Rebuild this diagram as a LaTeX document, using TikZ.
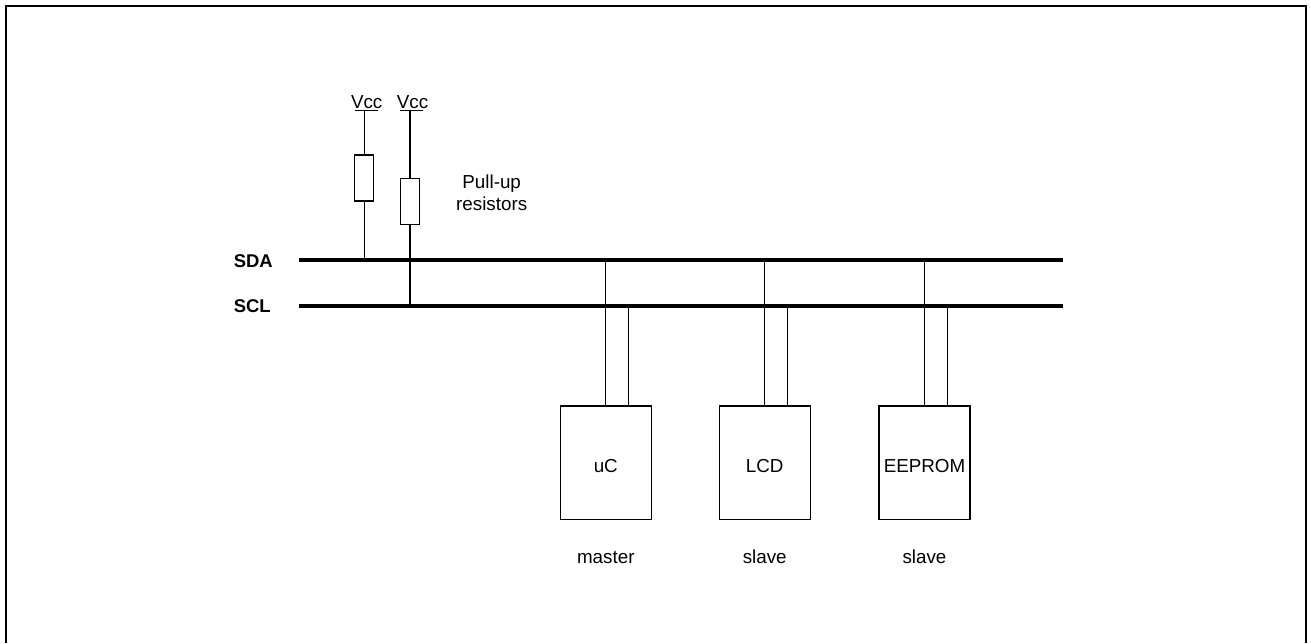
\documentclass[tikz,border=0pt]{standalone}
\usepackage{fontspec}
\setmainfont{Liberation Sans}
\tikzset{
  wire/.style={line width=0.65pt},
  bus/.style={line width=2.2pt},
  resistor/.style={draw,line width=0.65pt,inner sep=0pt,outer sep=0pt,minimum width=0.38cm,minimum height=0.92cm},
  chip/.style={draw,line width=0.65pt,inner sep=0pt,outer sep=0pt,minimum width=1.82cm,minimum height=2.27cm},
  label/.style={inner sep=0pt,anchor=base,font=\fontsize{10.7}{13}\selectfont},
  busname/.style={inner sep=0pt,anchor=base west,font=\fontsize{10.5}{13}\selectfont\bfseries}
}
\begin{document}
\begin{tikzpicture}[x=0.02cm,y=-0.02cm]
  \useasboundingbox (0,0) rectangle (1311,643);
  \draw[line width=1.4pt] (6.2,643) -- (6.2,6) -- (1306,6) -- (1306,643);
  % bus lines
  \coordinate (sdaL) at (299,260.3);
  \coordinate (sdaR) at (1063,260.3);
  \coordinate (sclL) at (299,305.7);
  \coordinate (sclR) at (1063,305.7);
  \draw[bus] (sdaL) -- (sdaR);
  \draw[bus] (sclL) -- (sclR);
  \node[busname] (sda) at (233.5,267.5) {SDA};
  \node[busname] (scl) at (233.5,312.5) {SCL};
  % pull-ups
  \node[label] (vcc1) at (366.7,108) {Vcc};
  \node[label] (vcc2) at (412.5,108) {Vcc};
  \coordinate (rail1) at (364.3,110.7);
  \coordinate (rail2) at (410,110.7);
  \draw[wire] (354.7,110.7) -- (378,110.7);
  \draw[wire] (400,110.7) -- (423,110.7);
  \node[resistor] (r1) at (364.3,178) {};
  \node[resistor] (r2) at (410,201.2) {};
  \draw[wire] (rail1) -- (r1);
  \draw[wire] (r1) -- (r1 |- sdaL);
  \draw[wire] (rail2) -- (r2);
  \draw[wire] (r2) -- (r2 |- sclL);
  \node[label] (pull) at (491.7,188) {Pull-up};
  \node[label] (res) at (491.7,210.7) {resistors};
  % devices
  \node[chip] (uC) at (605.8,462.7) {};
  \node[chip] (LCD) at (764.7,462.7) {};
  \node[chip] (EEPROM) at (924.5,462.7) {};
  \node[label] (uCtxt) at (605.8,472.5) {uC};
  \node[label] (LCDtxt) at (764.7,472.5) {LCD};
  \node[label] (EEPROMtxt) at (924.5,472.5) {EEPROM};
  \node[label] (uCrole) at (605.8,563) {master};
  \node[label] (LCDrole) at (764.7,563) {slave};
  \node[label] (EEPROMrole) at (924.5,563) {slave};
  \coordinate (d1) at (605.8,260.3);
  \coordinate (c1) at (628.4,305.7);
  \coordinate (d2) at (764.7,260.3);
  \coordinate (c2) at (787.3,305.7);
  \coordinate (d3) at (924.5,260.3);
  \coordinate (c3) at (947.1,305.7);
  \draw[wire] (d1) -- (d1 |- uC.north);
  \draw[wire] (c1) -- (c1 |- uC.north);
  \draw[wire] (d2) -- (d2 |- LCD.north);
  \draw[wire] (c2) -- (c2 |- LCD.north);
  \draw[wire] (d3) -- (d3 |- EEPROM.north);
  \draw[wire] (c3) -- (c3 |- EEPROM.north);
\end{tikzpicture}
\end{document}
